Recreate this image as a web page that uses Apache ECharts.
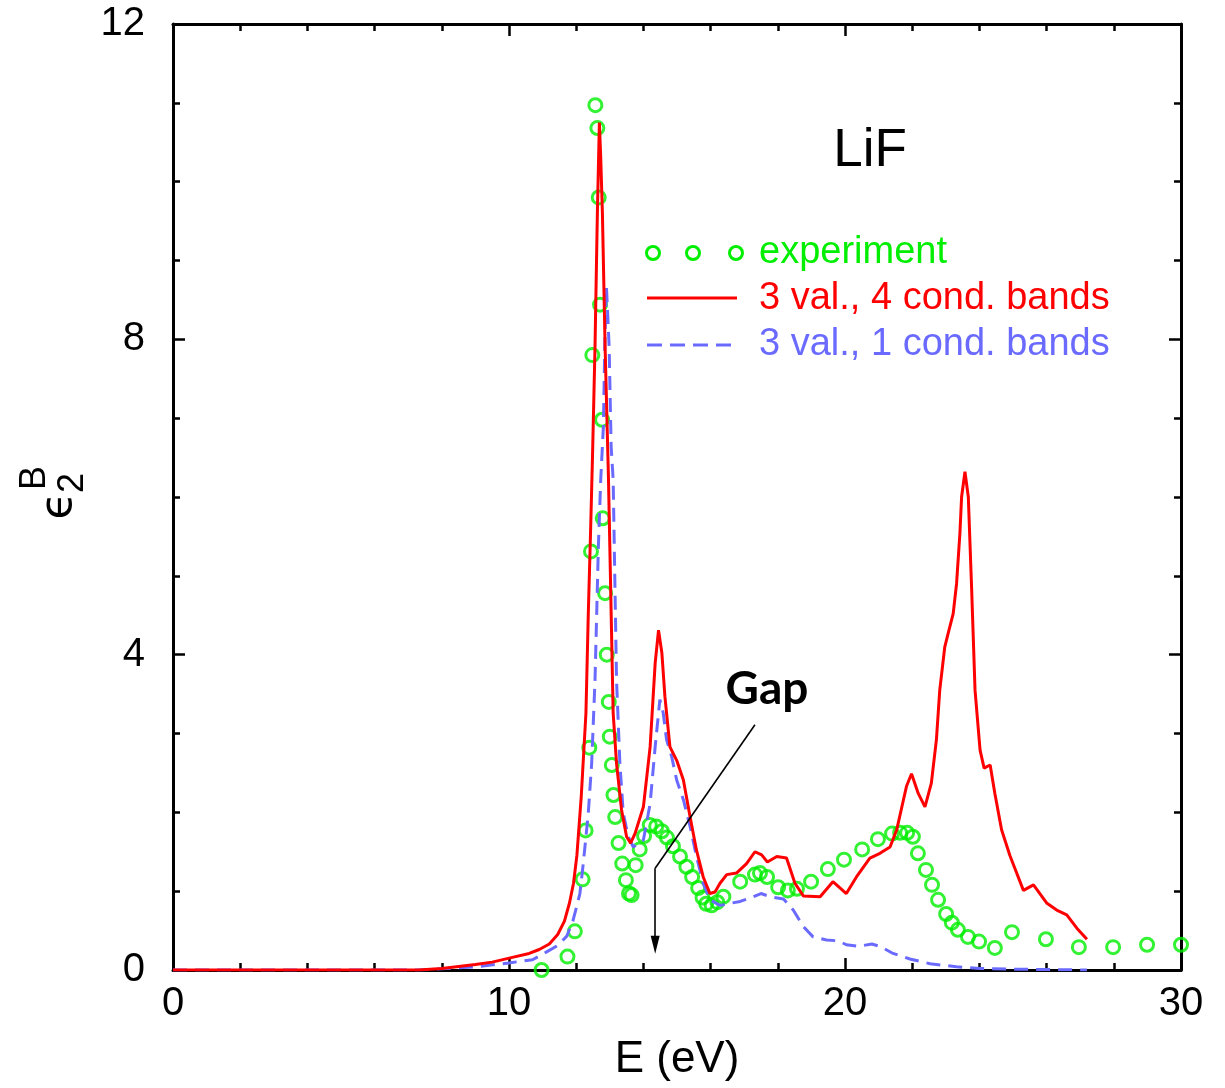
<!DOCTYPE html>
<html>
<head>
<meta charset="utf-8">
<title>LiF ε2</title>
<script src="https://cdn.jsdelivr.net/npm/echarts@6/dist/echarts.min.js"></script>
<style>
  html, body { margin: 0; padding: 0; background: #fff; }
  #chart { width: 1225px; height: 1088px; }
</style>
</head>
<body>
<div id="chart"></div>
<script>
// Axis ticks
const xTicks = [0, 10, 20, 30];
const yTicks = [0, 4, 8, 12];

// Experimental points [E (eV), eps2]
const experiment = [
  [10.97, 0.00], [11.74, 0.17], [11.96, 0.49], [12.19, 1.15], [12.28, 1.77],
  [12.39, 2.82], [12.44, 5.31], [12.48, 7.80], [12.57, 10.97], [12.63, 10.68],
  [12.67, 9.80], [12.71, 8.44], [12.77, 6.98], [12.79, 5.73], [12.86, 4.78],
  [12.91, 4.00], [12.97, 3.40], [13.00, 2.96], [13.06, 2.60], [13.11, 2.22],
  [13.16, 1.94], [13.26, 1.61], [13.37, 1.35], [13.48, 1.14], [13.57, 0.97],
  [13.65, 0.95], [13.77, 1.33], [13.89, 1.53], [14.02, 1.70], [14.19, 1.84],
  [14.38, 1.82], [14.55, 1.76], [14.70, 1.68], [14.88, 1.57], [15.09, 1.44],
  [15.28, 1.31], [15.45, 1.18], [15.63, 1.04], [15.76, 0.92], [15.87, 0.84],
  [16.03, 0.82], [16.20, 0.86], [16.38, 0.93], [16.88, 1.12], [17.32, 1.21],
  [17.47, 1.23], [17.68, 1.18], [18.01, 1.05], [18.30, 1.01], [18.57, 1.03],
  [18.99, 1.12], [19.49, 1.28], [19.97, 1.40], [20.51, 1.53], [20.98, 1.66],
  [21.40, 1.73], [21.64, 1.74], [21.85, 1.74], [22.02, 1.69], [22.17, 1.48],
  [22.41, 1.27], [22.59, 1.08], [22.77, 0.89], [23.01, 0.71], [23.18, 0.60],
  [23.36, 0.51], [23.66, 0.42], [23.99, 0.36], [24.46, 0.28], [24.97, 0.48],
  [25.98, 0.39], [26.96, 0.29], [27.98, 0.29], [28.99, 0.32], [30.00, 0.32]
];

// 3 valence, 4 conduction bands
const bands3v4c = [
  [0, 0], [7.3, 0], [8.0, 0.02], [9.0, 0.07], [9.5, 0.10], [10.1, 0.16],
  [10.6, 0.21], [10.9, 0.26], [11.2, 0.33], [11.45, 0.45], [11.65, 0.62],
  [11.8, 0.85], [11.92, 1.10], [12.02, 1.45], [12.15, 2.20],
  [12.29, 3.26], [12.36, 4.52], [12.43, 5.60], [12.49, 6.60], [12.56, 7.91],
  [12.63, 9.60], [12.69, 10.75], [12.73, 10.30], [12.78, 9.60], [12.86, 7.91],
  [12.96, 6.24], [13.04, 4.53], [13.10, 3.26], [13.20, 2.62], [13.35, 2.03],
  [13.50, 1.69], [13.62, 1.61], [13.75, 1.73], [14.00, 2.07], [14.20, 2.83],
  [14.35, 3.89], [14.45, 4.31], [14.55, 4.02], [14.64, 3.47], [14.79, 2.83],
  [14.99, 2.66], [15.19, 2.41], [15.39, 1.94], [15.58, 1.52], [15.78, 1.18],
  [15.98, 0.97], [16.13, 0.99], [16.28, 1.10], [16.48, 1.21], [16.77, 1.23],
  [17.07, 1.35], [17.32, 1.50], [17.52, 1.46], [17.69, 1.37], [17.97, 1.44],
  [18.26, 1.42], [18.51, 1.10], [18.76, 0.94], [19.26, 0.93], [19.64, 1.12],
  [20.04, 0.97], [20.34, 1.18], [20.74, 1.42], [21.04, 1.48], [21.34, 1.56],
  [21.54, 1.78], [21.74, 2.16], [21.83, 2.33], [21.98, 2.49], [22.18, 2.24],
  [22.38, 2.07], [22.57, 2.37], [22.72, 2.92], [22.82, 3.55], [22.97, 4.10],
  [23.07, 4.27], [23.22, 4.52], [23.32, 4.90], [23.42, 5.54], [23.47, 6.00],
  [23.57, 6.32], [23.67, 6.00], [23.77, 4.82], [23.87, 3.55], [24.02, 2.79],
  [24.14, 2.56], [24.32, 2.60], [24.46, 2.24], [24.66, 1.78], [24.91, 1.45],
  [25.31, 1.01], [25.61, 1.08], [26.00, 0.85], [26.30, 0.76], [26.60, 0.70],
  [26.90, 0.53], [27.20, 0.39]
];

// 3 valence, 1 conduction band
const bands3v1c = [
  [0, 0], [7.3, 0], [9.0, 0.04], [10.0, 0.09], [10.7, 0.13], [11.12, 0.23],
  [11.45, 0.31], [11.72, 0.43], [11.9, 0.62], [12.01, 0.80], [12.11, 0.97],
  [12.21, 1.35], [12.36, 1.99],
  [12.46, 2.62], [12.56, 3.68], [12.61, 4.52], [12.66, 5.37], [12.73, 6.22],
  [12.81, 6.90], [12.85, 7.91], [12.90, 8.67], [12.98, 7.91], [13.04, 6.64],
  [13.10, 6.22], [13.15, 4.95], [13.20, 3.68], [13.30, 2.62], [13.40, 1.99],
  [13.55, 1.69], [13.70, 1.56], [14.00, 1.65], [14.20, 2.11], [14.35, 2.83],
  [14.49, 3.43], [14.59, 3.26], [14.69, 2.92], [14.84, 2.71], [14.99, 2.41],
  [15.19, 2.16], [15.39, 1.82], [15.58, 1.44], [15.78, 1.10], [15.98, 0.89],
  [16.28, 0.82], [16.88, 0.87], [17.27, 0.93], [17.50, 0.97], [17.77, 0.93],
  [18.17, 0.90], [18.46, 0.76], [18.76, 0.55], [19.05, 0.42], [19.45, 0.38],
  [19.80, 0.37], [20.04, 0.32], [20.40, 0.30], [20.80, 0.33], [21.04, 0.30],
  [21.43, 0.21], [21.93, 0.14], [22.53, 0.08], [23.32, 0.04], [24.02, 0.02],
  [25.00, 0.01], [27.20, 0.00]
];

// "Gap" pointer: slanted leader, then a vertical arrow down to the onset
const gapLeader = [[17.32, 3.11], [14.35, 1.29]];
const gapArrow = [[14.35, 1.29], [14.35, 0.32]];

const seriesNames = ['experiment', '3 val., 4 cond. bands', '3 val., 1 cond. bands'];
const colors = { exp: '#00ee00', red: '#ff0000', blue: '#6a6aff' };

const FONT = "'Liberation Sans', Arial, Helvetica, sans-serif";

const chart = echarts.init(document.getElementById('chart'), null, { renderer: 'canvas' });

function axisCommon(extra) {
  return Object.assign({
    type: 'value',
    axisLine: { show: true, onZero: false, lineStyle: { color: '#000', width: 3 } },
    axisTick: { show: true, inside: true, length: 12, lineStyle: { color: '#000', width: 2.5 } },
    minorTick: { show: true, length: 7, lineStyle: { color: '#000', width: 2.5 } },
    splitLine: { show: false },
    minorSplitLine: { show: false }
  }, extra);
}

const pointerStyle = { color: '#000', width: 1.6, opacity: 1 };

const option = {
  animation: false,
  backgroundColor: '#fff',
  grid: { left: 173, right: 44, top: 24, bottom: 118, containLabel: false },
  xAxis: [
    axisCommon({
      position: 'bottom', min: xTicks[0], max: xTicks[xTicks.length - 1], interval: 10,
      minorTick: { show: true, splitNumber: 5, length: 7, lineStyle: { color: '#000', width: 2.5 } },
      axisLabel: { show: true, color: '#000', fontSize: 40, fontFamily: FONT, margin: 14 },
      name: 'E (eV)', nameLocation: 'middle', nameGap: 68,
      nameTextStyle: { color: '#000', fontSize: 44, fontFamily: FONT }
    }),
    axisCommon({
      position: 'top', min: xTicks[0], max: xTicks[xTicks.length - 1], interval: 10,
      minorTick: { show: true, splitNumber: 5, length: 7, lineStyle: { color: '#000', width: 2.5 } },
      axisLabel: { show: false }
    })
  ],
  yAxis: [
    axisCommon({
      position: 'left', min: yTicks[0], max: yTicks[yTicks.length - 1], interval: 4,
      minorTick: { show: true, splitNumber: 4, length: 7, lineStyle: { color: '#000', width: 2.5 } },
      axisLabel: { show: true, color: '#000', fontSize: 40, fontFamily: FONT, margin: 28 }
    }),
    axisCommon({
      position: 'right', min: yTicks[0], max: yTicks[yTicks.length - 1], interval: 4,
      minorTick: { show: true, splitNumber: 4, length: 7, lineStyle: { color: '#000', width: 2.5 } },
      axisLabel: { show: false }
    })
  ],
  series: [
    {
      name: seriesNames[0],
      type: 'scatter',
      xAxisIndex: 0, yAxisIndex: 0,
      data: experiment,
      symbol: 'circle',
      symbolSize: 13,
      clip: false,
      itemStyle: { color: 'rgba(0,0,0,0)', borderColor: colors.exp, borderWidth: 3 },
      z: 2
    },
    {
      name: seriesNames[2],
      type: 'line',
      xAxisIndex: 0, yAxisIndex: 0,
      data: bands3v1c,
      showSymbol: false,
      symbol: 'none',
      lineStyle: { color: colors.blue, width: 3, type: [14, 8] },
      z: 3
    },
    {
      name: seriesNames[1],
      type: 'line',
      xAxisIndex: 0, yAxisIndex: 0,
      data: bands3v4c,
      showSymbol: false,
      symbol: 'none',
      lineStyle: { color: colors.red, width: 3 },
      z: 4
    },
    {
      type: 'lines',
      coordinateSystem: 'cartesian2d',
      xAxisIndex: 0, yAxisIndex: 0,
      symbol: ['none', 'none'],
      lineStyle: pointerStyle,
      data: [{ coords: gapLeader }],
      silent: true,
      z: 5
    },
    {
      type: 'lines',
      coordinateSystem: 'cartesian2d',
      xAxisIndex: 0, yAxisIndex: 0,
      symbol: ['none', 'triangle'],
      symbolSize: [1, [9, 18]],
      symbolOffset: [0, 0],
      itemStyle: { color: '#000' },
      lineStyle: pointerStyle,
      data: [{ coords: gapArrow }],
      silent: true,
      z: 5
    }
  ],
  graphic: [
    // compound label
    { type: 'text', x: 870, y: 151, style: { text: 'LiF', fill: '#000', font: "53px " + FONT, align: 'center', verticalAlign: 'middle' } },
    // Gap label
    { type: 'text', x: 767, y: 689, style: { text: 'Gap', fill: '#000', font: "bold 46px Lato, 'Open Sans', sans-serif", align: 'center', verticalAlign: 'middle' } },
    // key: experiment
    { type: 'circle', shape: { cx: 653, cy: 253, r: 6.5 }, style: { fill: 'none', stroke: colors.exp, lineWidth: 3 } },
    { type: 'circle', shape: { cx: 693, cy: 253, r: 6.5 }, style: { fill: 'none', stroke: colors.exp, lineWidth: 3 } },
    { type: 'circle', shape: { cx: 736, cy: 253, r: 6.5 }, style: { fill: 'none', stroke: colors.exp, lineWidth: 3 } },
    { type: 'text', x: 759, y: 253, style: { text: seriesNames[0], fill: colors.exp, font: "38px " + FONT, align: 'left', verticalAlign: 'middle' } },
    // key: 4 conduction bands
    { type: 'line', shape: { x1: 647, y1: 298, x2: 737, y2: 298 }, style: { stroke: colors.red, lineWidth: 3 } },
    { type: 'text', x: 759, y: 299, style: { text: seriesNames[1], fill: colors.red, font: "38px " + FONT, align: 'left', verticalAlign: 'middle' } },
    // key: 1 conduction band
    { type: 'line', shape: { x1: 647, y1: 345, x2: 737, y2: 345 }, style: { stroke: colors.blue, lineWidth: 3, lineDash: [15, 8] } },
    { type: 'text', x: 759, y: 345, style: { text: seriesNames[2], fill: colors.blue, font: "38px " + FONT, align: 'left', verticalAlign: 'middle' } },
    // y-axis title: epsilon_2^B, reading upward
    {
      type: 'group', x: 60, y: 506, rotation: Math.PI / 2,
      children: [
        { type: 'text', x: 0, y: 0, style: { text: 'ϵ', fill: '#000', font: "44px 'DejaVu Sans', sans-serif", align: 'center', verticalAlign: 'middle' } },
        { type: 'text', x: 23, y: 13, style: { text: '2', fill: '#000', font: "36px " + FONT, align: 'center', verticalAlign: 'middle' } },
        { type: 'text', x: 28, y: -25, style: { text: 'B', fill: '#000', font: "36px " + FONT, align: 'center', verticalAlign: 'middle' } }
      ]
    }
  ]
};

chart.setOption(option);
</script>
</body>
</html>
